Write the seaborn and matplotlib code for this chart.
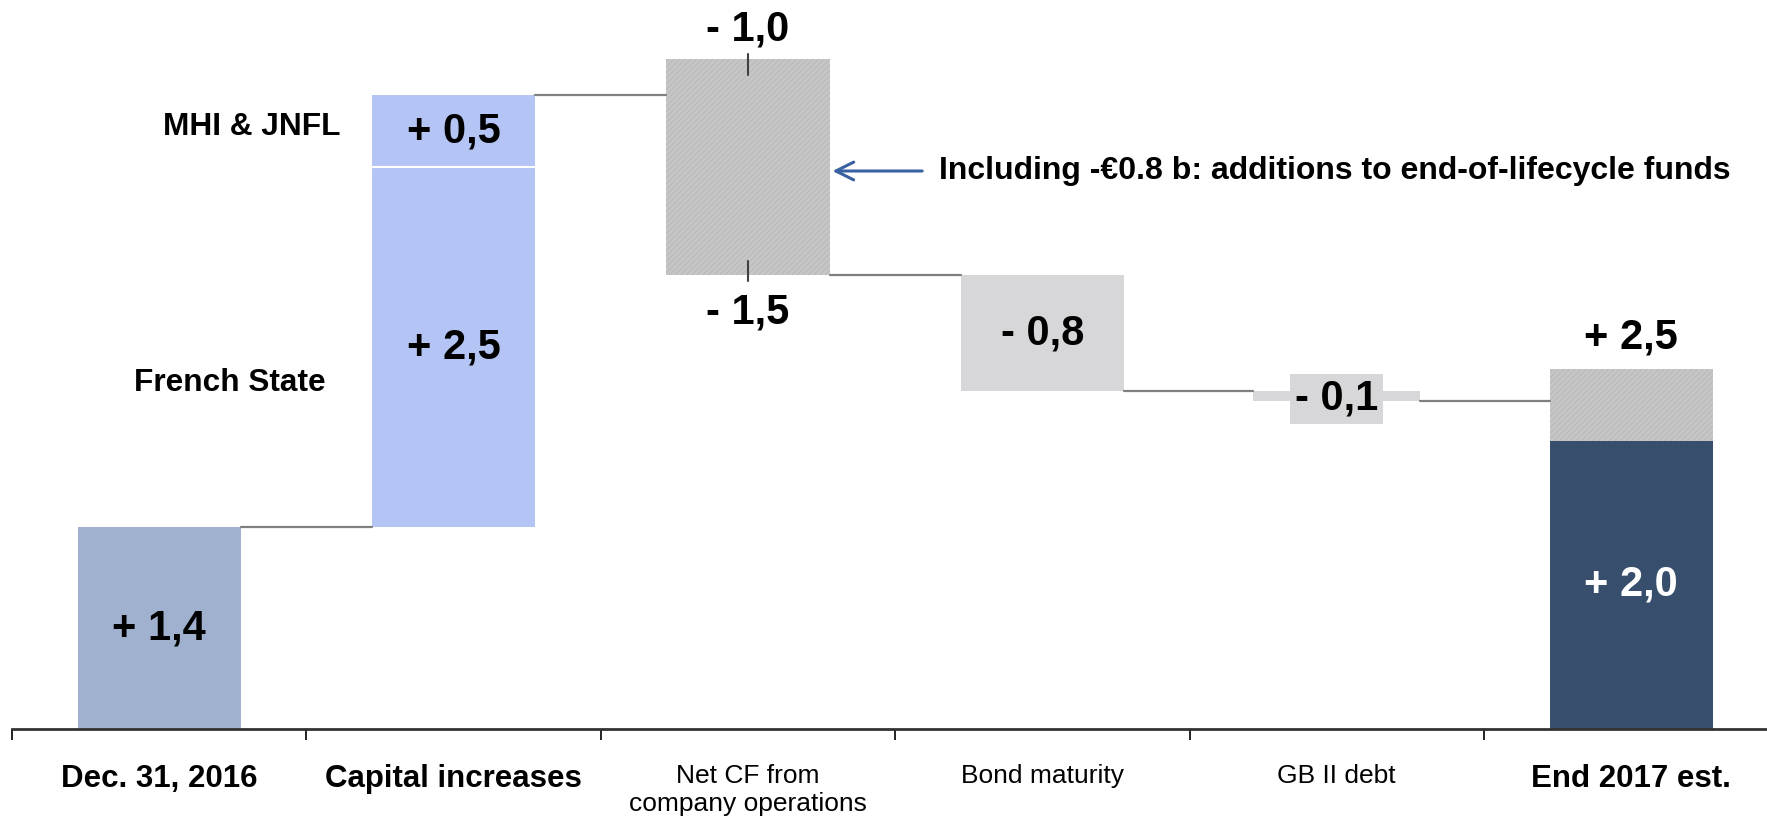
import numpy as np
import pandas as pd
import matplotlib
matplotlib.use("Agg")
import matplotlib.pyplot as plt
import seaborn as sns

# waterfall data (EUR bn)
categories = ["Dec. 31, 2016", "Capital increases", "Net CF from\ncompany operations",
              "Bond maturity", "GB II debt", "End 2017 est."]
base_bottom = [0.0, 1.4, 3.15, 2.35, 2.28, 0.0]
base_height = [1.4, 2.5, 1.5, 0.8, 0.07, 2.0]
top_height = [0.0, 0.5, 0.0, 0.0, 0.0, 0.5]      # stacked segments on top
base_labels = ["+ 1,4", "+ 2,5", "", "- 0,8", "- 0,1", "+ 2,0"]
top_labels = ["", "+ 0,5", "", "", "", ""]
netcf_range = ["- 1,0", "- 1,5"]
end_total = "+ 2,5"
bold_cats = [True, True, False, False, False, True]
side_labels = ["MHI & JNFL", "French State"]
note = "Including -€0.8 b: additions to end-of-lifecycle funds"

base_colors = ["#9FB1CF", "#B4C4F4", "#C6C6C6", "#D7D7D9", "#D7D7D9", "#384E6D"]
top_colors = ["#FFFFFF", "#B4C4F4", "#FFFFFF", "#FFFFFF", "#FFFFFF", "#C6C6C6"]
hatched = [False, False, True, False, False, False]
top_hatched = [False, False, False, False, False, True]

sns.set_theme(style="white")
plt.rcParams["font.family"] = ["Liberation Sans", "DejaVu Sans"]
plt.rcParams["text.color"] = "black"
plt.rcParams["hatch.linewidth"] = 0.5

fig = plt.figure(figsize=(17.67, 8.22), dpi=100)
ax = fig.add_axes([12 / 1767, 93 / 822, 1 - 12 / 1767, 729 / 822])

W = 0.555
# one seaborn call per segment so each bar gets its own bottom
for i, cat in enumerate(categories):
    w = 0.566 if i == 4 else W
    sns.barplot(x=[cat], y=[base_height[i]], order=categories, color=base_colors[i],
                bottom=base_bottom[i], width=w, ax=ax, saturation=1, linewidth=0)
    p = ax.patches[-1]
    if hatched[i]:
        p.set_hatch("//////")
        p.set_edgecolor("#B4B4B4")
    if top_height[i] > 0:
        sns.barplot(x=[cat], y=[top_height[i]], order=categories, color=top_colors[i],
                    bottom=base_bottom[i] + base_height[i], width=w, ax=ax,
                    saturation=1, linewidth=0)
        p = ax.patches[-1]
        if top_hatched[i]:
            p.set_hatch("//////")
            p.set_edgecolor("#B4B4B4")

# divider between French State and MHI & JNFL
ax.plot([1 - W / 2, 1 + W / 2], [3.9, 3.9], color="white", lw=1.5, zorder=3)

# connectors
levels = [1.4, 4.4, 3.15, 2.35, 2.28]
for i, lv in enumerate(levels):
    x0 = i + (0.283 if i == 4 else W / 2)
    x1 = i + 1 - (0.283 if i + 1 == 4 else W / 2)
    ax.plot([x0, x1], [lv, lv], color="#7F7F7F", lw=1.6, zorder=1)

# range ticks on Net CF bar
top_ncf = base_bottom[2] + base_height[2]
ax.plot([2, 2], [top_ncf + 0.04, top_ncf - 0.11], color="#404040", lw=1.5, zorder=3)
ax.plot([2, 2], [base_bottom[2] + 0.1, base_bottom[2] - 0.04], color="#404040", lw=1.5, zorder=3)
ax.text(2, top_ncf + 0.21, netcf_range[0], ha="center", va="center",
        fontsize=30, fontweight="bold")
ax.text(2, base_bottom[2] - 0.26, netcf_range[1], ha="center", va="center",
        fontsize=30, fontweight="bold")

# value labels
for i in range(len(categories)):
    lab = base_labels[i]
    if not lab:
        continue
    y = base_bottom[i] + base_height[i] / 2
    col = "white" if i == 5 else "black"
    if i == 4:
        ax.text(i, y - 0.02, lab, ha="center", va="center", fontsize=30,
                fontweight="bold", bbox=dict(boxstyle="square,pad=0.12",
                                             fc="#D7D7D9", ec="none"))
    else:
        ax.text(i, y, lab, ha="center", va="center", fontsize=30,
                fontweight="bold", color=col)
ax.text(1, base_bottom[1] + base_height[1] + top_height[1] / 2, top_labels[1],
        ha="center", va="center", fontsize=30, fontweight="bold")
ax.text(5, base_height[5] + top_height[5] + 0.22, end_total, ha="center",
        va="center", fontsize=30, fontweight="bold")

# side labels for capital increases
ax.text(0.315, 4.18, side_labels[0], ha="center", va="center", fontsize=22.8,
        fontweight="bold")
ax.text(0.24, 2.40, side_labels[1], ha="center", va="center", fontsize=22.8,
        fontweight="bold")

# note with arrow
ax.annotate(note, xy=(2 + W / 2, 3.875), xytext=(2.65, 3.875),
            ha="left", va="center", fontsize=23, fontweight="bold",
            arrowprops=dict(arrowstyle="->", color="#3A62A0", lw=2.2,
                            mutation_scale=32, shrinkA=10, shrinkB=2))

# axes
ax.set_xlim(-0.5, -0.5 + (1767 - 12) / 294.4)
ax.set_ylim(0, 729 / 144)
ax.set_xlabel("")
ax.set_ylabel("")
ax.set_yticks([])
ax.set_xticks(range(len(categories)))
ax.set_xticklabels(categories)
for lbl, b in zip(ax.get_xticklabels(), bold_cats):
    lbl.set_color("black")
    if b:
        lbl.set_fontweight("bold")
        lbl.set_fontsize(22.5)
    else:
        lbl.set_fontsize(19)
ax.tick_params(axis="x", which="major", length=0, pad=25)
ax.set_xticks(np.arange(-0.5, 5.0, 1.0), minor=True)
ax.tick_params(axis="x", which="minor", length=8, width=1.4, color="#222222",
               direction="out", bottom=True)
for s in ["left", "right", "top"]:
    ax.spines[s].set_visible(False)
ax.spines["bottom"].set_color("#333333")
ax.spines["bottom"].set_linewidth(2)

fig.savefig("out.png", dpi=100)
